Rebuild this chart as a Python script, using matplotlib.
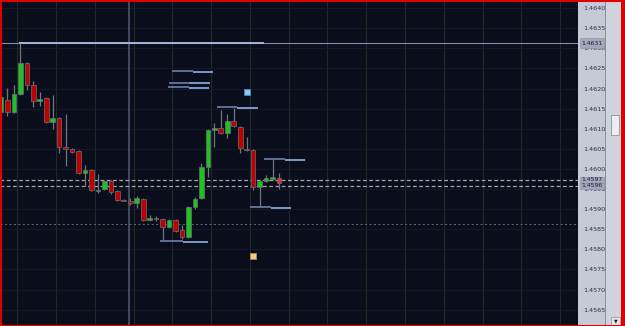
import matplotlib
matplotlib.use("Agg")
import matplotlib.pyplot as plt
import matplotlib.transforms as mtransforms
from matplotlib.patches import Rectangle
import numpy as np

# candle data (open, high, low, close), one per bar
opens = [1.46142, 1.46172, 1.46142, 1.46187, 1.46264, 1.46209, 1.46169, 1.46177,
         1.46117, 1.46127, 1.46055, 1.46050, 1.46045, 1.45990, 1.45998, 1.45945,
         1.45950, 1.45970, 1.45945, 1.45923, 1.45920, 1.45915, 1.45925, 1.45873,
         1.45878, 1.45876, 1.45856, 1.45873, 1.45848, 1.45831, 1.45905, 1.45928,
         1.46005, 1.46097, 1.46102, 1.46090, 1.46119, 1.46104, 1.46050, 1.46047,
         1.45955, 1.45970, 1.45976, 1.45978]
highs = [1.46184, 1.46202, 1.46209, 1.46313, 1.46266, 1.46219, 1.46192, 1.46179,
         1.46184, 1.46129, 1.46137, 1.46052, 1.46047, 1.46010, 1.46000, 1.45988,
         1.45973, 1.45973, 1.45948, 1.45925, 1.45928, 1.45933, 1.45928, 1.45886,
         1.45883, 1.45878, 1.45876, 1.45876, 1.45861, 1.45908, 1.45930, 1.46015,
         1.46100, 1.46114, 1.46147, 1.46137, 1.46152, 1.46107, 1.46080, 1.46050,
         1.45973, 1.45985, 1.46027, 1.45990]
lows = [1.46137, 1.46132, 1.46139, 1.46184, 1.46197, 1.46154, 1.46157, 1.46114,
        1.46100, 1.46040, 1.46007, 1.46040, 1.45988, 1.45958, 1.45945, 1.45940,
        1.45948, 1.45938, 1.45920, 1.45920, 1.45910, 1.45903, 1.45871, 1.45871,
        1.45871, 1.45821, 1.45853, 1.45843, 1.45826, 1.45828, 1.45900, 1.45925,
        1.45980, 1.46055, 1.46087, 1.46077, 1.46104, 1.46040, 1.46045, 1.45948,
        1.45905, 1.45968, 1.45973, 1.45950]
closes = [1.46179, 1.46142, 1.46187, 1.46264, 1.46209, 1.46169, 1.46174, 1.46117,
          1.46127, 1.46055, 1.46050, 1.46042, 1.45990, 1.45998, 1.45948, 1.45948,
          1.45970, 1.45943, 1.45923, 1.45921, 1.45915, 1.45928, 1.45873, 1.45878,
          1.45876, 1.45856, 1.45873, 1.45846, 1.45831, 1.45905, 1.45925, 1.46005,
          1.46097, 1.46102, 1.46090, 1.46119, 1.46107, 1.46052, 1.46047, 1.45955,
          1.45970, 1.45978, 1.45976, 1.45965]

# short level markers: price, start bar, split bar, end bar
level_prices = [1.46244, 1.46215, 1.46203, 1.46153, 1.46025, 1.45906, 1.45820]
level_start = [26.45, 26.0, 25.8, 33.4, 40.7, 38.5, 24.6]
level_mid = [29.7, 29.1, 29.1, 36.5, 43.9, 41.8, 28.2]
level_end = [32.8, 32.3, 32.2, 39.75, 47.0, 44.9, 32.0]

top_level = 1.46313
top_level_span = (2.8, 40.7)
dashed_levels = [1.45973, 1.45958]
dotted_level = 1.45863
cursor_bar = 19.8
blue_point = (38.05, 1.46192)
orange_point = (38.98, 1.45784)

price_ticks = np.arange(1.4565, 1.46401, 0.0005)
marked_labels = ["1.4631", "1.4597", "1.4596"]
marked_at = [top_level] + dashed_levels

W, H = 625, 326
fig = plt.figure(figsize=(W / 100, H / 100), dpi=100)
fig.patch.set_facecolor("#c6cad6")
ax = fig.add_axes([0, 0, 578 / W, 1])
ax.set_facecolor("#0a0d1b")
ax.set_xlim(-0.15, 89.25)
ax.set_ylim(1.456094, 1.464204)

# grid
for gx in np.arange(2.5, 89, 6):
    ax.axvline(gx, color="#1f2a28", lw=0.8, zorder=0)
for gy in price_ticks:
    ax.axhline(gy, color="#161d26", lw=0.6, zorder=0)
ax.axvline(cursor_bar, color="#4c5568", lw=1.2, zorder=1)

# reference lines
ax.axhline(top_level, color="#7d8cae", lw=0.8, zorder=2)
ax.hlines(top_level, *top_level_span, color="#a4b6d6", lw=1.4, zorder=2)
for lv in dashed_levels:
    ax.axhline(lv, color="#a0a6ae", lw=0.9, ls=(0, (3, 2)), zorder=2)
ax.axhline(dotted_level, color="#56605e", lw=0.8, ls=(0, (2, 2)), zorder=2)

for p, s, m, e in zip(level_prices, level_start, level_mid, level_end):
    ax.hlines(p, s, m, color="#6c80aa", lw=1.2, zorder=3)
    ax.hlines(p - 0.00002, m, e, color="#8db0ea", lw=1.2, zorder=3)

# candles
x = np.arange(len(opens))
o = np.array(opens)
c = np.array(closes)
ax.vlines(x, lows, highs, color="#70757f", lw=0.9, zorder=4)
up = c >= o
bottoms = np.minimum(o, c)
heights = np.maximum(np.abs(c - o), 0.00003)
colors = np.where(up, "#1ec41e", "#c00000")
colors[-1] = "#ff2a2a"
ax.bar(x, heights, bottom=bottoms, width=0.72, color=colors,
       edgecolor="#6a6e78", linewidth=0.5, zorder=5)

ax.scatter(*blue_point, marker="s", s=16, color="#80ccf4",
           edgecolor="#4c88b8", linewidth=0.5, zorder=6)
ax.scatter(*orange_point, marker="s", s=16, color="#f4c888",
           edgecolor="#b88c50", linewidth=0.5, zorder=6)

ax.set_xticks([])
ax.yaxis.tick_right()
ax.set_yticks(price_ticks)
ax.set_yticklabels(["%.4f" % t for t in price_ticks])
ax.tick_params(axis="y", length=0, pad=4, labelsize=4.6, labelcolor="#2c3040")
for sp in ax.spines.values():
    sp.set_visible(False)

# price markers on the scale
tr = mtransforms.blended_transform_factory(fig.transFigure, ax.transData)
box_h = [0.00026, 0.00015, 0.00015]
for lab, p, bh in zip(marked_labels, marked_at, box_h):
    fig.add_artist(Rectangle((580 / W, p - bh / 2), 24 / W, bh,
                             transform=tr, facecolor="#a2a8bc",
                             edgecolor="#8a90a4", lw=0.4, zorder=5))
    fig.text(592 / W, p, lab, transform=tr, fontsize=4.4,
             color="#1c2030", ha="center", va="center", zorder=6)

# scrollbar area
fig.add_artist(Rectangle((605 / W, 0), 1 / W, 1, transform=fig.transFigure,
                         facecolor="#8a8e9c", lw=0))
fig.add_artist(Rectangle((606 / W, 0), 15 / W, 1, transform=fig.transFigure,
                         facecolor="#d0d3dc", lw=0))
fig.add_artist(Rectangle((611 / W, 1 - 135 / H), 8 / W, 20 / H,
                         transform=fig.transFigure, facecolor="#eceef2",
                         edgecolor="#8e92a0", lw=0.6))
fig.add_artist(Rectangle((611 / W, 1 - 325 / H), 9 / W, 8 / H,
                         transform=fig.transFigure, facecolor="#e4e6ec",
                         edgecolor="#9094a0", lw=0.5))
fig.text(615.5 / W, 1 - 321 / H, "\u25bc", fontsize=3.5, color="#202020",
         ha="center", va="center")

# red frame
fig.add_artist(Rectangle((621 / W, 0), 4 / W, 1, transform=fig.transFigure,
                         facecolor="#e00000", lw=0))
fig.add_artist(Rectangle((0, 0), 1, 1, transform=fig.transFigure,
                         fill=False, edgecolor="#e00000", lw=2.2))

fig.savefig("out.png", dpi=100)
